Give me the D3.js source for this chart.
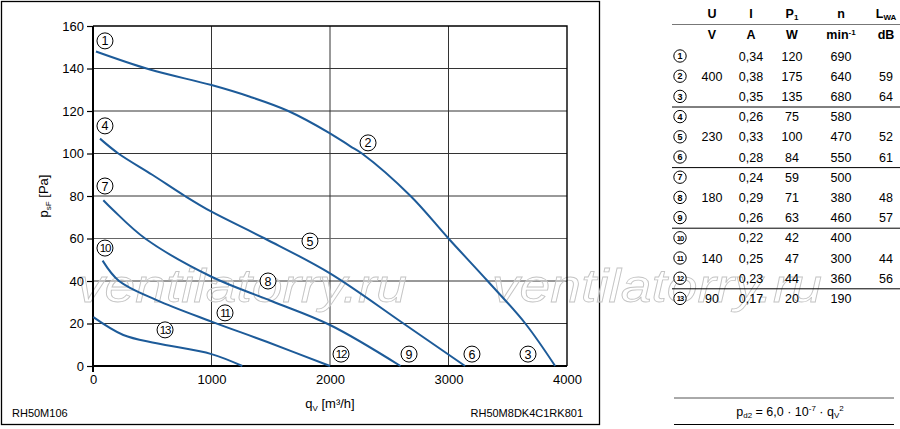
<!DOCTYPE html>
<html>
<head>
<meta charset="utf-8">
<script src="https://cdn.jsdelivr.net/npm/d3@7"></script>
<style>
body { margin: 0; background: #fff; }
svg { font-family: "Liberation Sans", Arial, sans-serif; }
</style>
</head>
<body>
<div id="chart"></div>
<script>
// axis ticks
var qTicks = [0, 1000, 2000, 3000, 4000];
var pTicks = [0, 20, 40, 60, 80, 100, 120, 140, 160];

// characteristic curves [q_V m3/h, p_sF Pa]
var curve400 = [[25,148],[480,139.5],[1000,132.2],[1325,126.7],[1648,120],[2000,109.5],[2169,103.5],[2270,100],[2680,80],[3000,60],[3330,40],[3648,20],[3900,0]];
var curve230 = [[59,107],[214,100],[500,90],[776,80],[1000,72.6],[1450,60],[2000,43.6],[2620,20],[3140,0]];
var curve180 = [[87,78],[170,73.4],[440,60],[1000,42],[1500,30.7],[2000,19.3],[2595,0]];
var curve140 = [[81,49.6],[220,40],[537,31],[1000,20.9],[1466,11.4],[2000,0]];
var curve90  = [[3,23],[256,14.6],[537,10.7],[1000,5.6],[1260,0]];

// operating point labels [number, q, p]
var pointLabels = [[1,101,153],[2,2321,105],[3,3671,5.6],[4,101,113],[5,1831,58.8],[6,3198,5.6],
	[7,101,84.7],[8,1477,40],[9,2667,5.6],[10,101,55.5],[11,1114,25],[12,2093,5.6],[13,608,17]];

// table
var rowNums = [1,2,3,4,5,6,7,8,9,10,11,12,13];
var voltage = ["","400","","","230","","","180","","","140","","90"];
var current = ["0,34","0,38","0,35","0,26","0,33","0,28","0,24","0,29","0,26","0,22","0,25","0,23","0,17"];
var power   = ["120","175","135","75","100","84","59","71","63","42","47","44","20"];
var speed   = ["690","640","680","580","470","550","500","380","460","400","300","360","190"];
var noise   = ["","59","64","","52","61","","48","57","","44","56",""];
var groupEnds = [3, 6, 9, 12];

var w = 900, h = 429;
var blue = "#1d5b99";

var svg = d3.select("#chart").append("svg")
	.attr("width", w)
	.attr("height", h);

var x = d3.scaleLinear().domain([0, 4000]).range([93, 567]);
var y = d3.scaleLinear().domain([0, 160]).range([366, 26]);

// outer frame of the chart
svg.append("rect")
	.attr("x", 1.5).attr("y", 1.5)
	.attr("width", 598).attr("height", 423)
	.attr("fill", "none").attr("stroke", "#000").attr("stroke-width", 1.3);

// grid
svg.append("g").selectAll("line")
	.data(qTicks.slice(1, -1))
	.enter().append("line")
	.attr("x1", function (d) { return x(d); })
	.attr("x2", function (d) { return x(d); })
	.attr("y1", y(160)).attr("y2", y(0))
	.attr("stroke", "#333").attr("stroke-width", 1);
svg.append("g").selectAll("line")
	.data(pTicks.slice(1, -1))
	.enter().append("line")
	.attr("x1", x(0)).attr("x2", x(4000))
	.attr("y1", function (d) { return y(d); })
	.attr("y2", function (d) { return y(d); })
	.attr("stroke", function (d) { return d == 60 ? "#666" : "#333"; })
	.attr("stroke-width", 1);

// watermark
var marks = [77, 492];
svg.append("g").selectAll("text")
	.data(marks)
	.enter().append("text")
	.attr("x", function (d) { return d; })
	.attr("y", 302)
	.attr("font-size", 46)
	.attr("font-style", "italic")
	.attr("textLength", 330)
	.attr("lengthAdjust", "spacingAndGlyphs")
	.attr("fill", "rgba(255,255,255,0.35)")
	.attr("stroke", "#c4c4c4")
	.attr("stroke-width", 0.8)
	.text("ventilatorry.ru");

// plot border top/right
svg.append("path")
	.attr("d", "M" + x(0) + "," + y(160) + "H" + x(4000) + "V" + y(0))
	.attr("fill", "none").attr("stroke", "#000").attr("stroke-width", 1.4);

// axes
var yAxis = d3.axisLeft(y).tickValues(pTicks).tickSize(6).tickPadding(3).tickFormat(d3.format("d"));
var gy = svg.append("g").attr("transform", "translate(" + x(0) + ",0)").call(yAxis);
var xAxis = d3.axisBottom(x).tickValues(qTicks).tickSize(0).tickPadding(9).tickFormat(d3.format("d"));
var gx = svg.append("g").attr("transform", "translate(0," + y(0) + ")").call(xAxis);
[gy, gx].forEach(function (g) {
	g.select(".domain").remove();
	g.selectAll("text").attr("font-size", 13).attr("fill", "#000")
		.attr("font-family", "Liberation Sans, Arial, sans-serif");
	g.selectAll("line").attr("stroke", "#000").attr("stroke-width", 1.2);
});
svg.append("line")
	.attr("x1", x(0)).attr("x2", x(4000))
	.attr("y1", y(0)).attr("y2", y(0))
	.attr("stroke", "#000").attr("stroke-width", 2.2);
svg.append("line")
	.attr("x1", x(0)).attr("x2", x(0))
	.attr("y1", y(160)).attr("y2", y(0) + 6)
	.attr("stroke", "#000").attr("stroke-width", 2);

// curves
var line = d3.line()
	.x(function (d) { return x(d[0]); })
	.y(function (d) { return y(d[1]); })
	.curve(d3.curveCatmullRom.alpha(0.5));
svg.append("g").selectAll("path")
	.data([curve400, curve230, curve180, curve140, curve90])
	.enter().append("path")
	.attr("d", line)
	.attr("fill", "none")
	.attr("stroke", blue)
	.attr("stroke-width", 2);

// point labels
var pl = svg.append("g").selectAll("g")
	.data(pointLabels)
	.enter().append("g")
	.attr("transform", function (d) { return "translate(" + x(d[1]) + "," + y(d[2]) + ")"; });
pl.append("circle")
	.attr("r", 8)
	.attr("fill", "#fff")
	.attr("stroke", "#000")
	.attr("stroke-width", 1);
pl.append("text")
	.attr("text-anchor", "middle")
	.attr("dy", "0.36em")
	.attr("font-size", function (d) { return d[0] > 9 ? 11.5 : 12.5; })
	.attr("letter-spacing", function (d) { return d[0] > 9 ? -1.2 : 0; })
	.text(function (d) { return d[0]; });

// axis titles
var yt = svg.append("text")
	.attr("transform", "translate(48,196) rotate(-90)")
	.attr("text-anchor", "middle")
	.attr("font-size", 13);
yt.append("tspan").text("p");
yt.append("tspan").attr("font-size", 8).attr("dy", 3).text("sF");
yt.append("tspan").attr("dy", -3).text(" [Pa]");

var xt = svg.append("text")
	.attr("x", 330).attr("y", 408)
	.attr("text-anchor", "middle")
	.attr("font-size", 13);
xt.append("tspan").text("q");
xt.append("tspan").attr("font-size", 8).attr("dy", 3).text("V");
xt.append("tspan").attr("dy", -3).text(" [m³/h]");

svg.append("text")
	.attr("x", 12).attr("y", 417)
	.attr("font-size", 11)
	.text("RH50M106");
svg.append("text")
	.attr("x", 583).attr("y", 417)
	.attr("text-anchor", "end")
	.attr("font-size", 11)
	.text("RH50M8DK4C1RK801");

// table
var cols = [712, 751, 792, 841, 886];
var rowY = function (i) { return 56 + i * 20.2; };
var tb = svg.append("g").attr("font-size", 12.5);

var head = tb.append("g").attr("font-weight", "bold").attr("text-anchor", "middle");
head.append("text").attr("x", cols[0]).attr("y", 18).text("U");
head.append("text").attr("x", cols[1]).attr("y", 18).text("I");
var hp = head.append("text").attr("x", cols[2]).attr("y", 18);
hp.append("tspan").text("P");
hp.append("tspan").attr("font-size", 8).attr("dy", 2).text("1");
head.append("text").attr("x", cols[3]).attr("y", 18).text("n");
var hl = head.append("text").attr("x", cols[4]).attr("y", 18);
hl.append("tspan").text("L");
hl.append("tspan").attr("font-size", 8).attr("dy", 2).text("WA");
var units = ["V", "A", "W", null, "dB"];
units.forEach(function (u, i) {
	if (u) head.append("text").attr("x", cols[i]).attr("y", 39).text(u);
});
var hm = head.append("text").attr("x", cols[3]).attr("y", 39);
hm.append("tspan").text("min");
hm.append("tspan").attr("font-size", 8).attr("dy", -4).text("-1");

tb.append("line")
	.attr("x1", 672).attr("x2", 900).attr("y1", 24.5).attr("y2", 24.5)
	.attr("stroke", "#777").attr("stroke-width", 1);
tb.selectAll(".sep")
	.data(groupEnds)
	.enter().append("line")
	.attr("class", "sep")
	.attr("x1", 672).attr("x2", 900)
	.attr("y1", function (d) { return rowY(d) - 9.6; })
	.attr("y2", function (d) { return rowY(d) - 9.6; })
	.attr("stroke", "#000").attr("stroke-width", 1);

var rows = tb.selectAll(".row")
	.data(rowNums)
	.enter().append("g")
	.attr("class", "row")
	.attr("transform", function (d, i) { return "translate(0," + rowY(i) + ")"; });
rows.append("circle")
	.attr("cx", 680).attr("r", 6.2)
	.attr("fill", "#fff").attr("stroke", "#000").attr("stroke-width", 1);
rows.append("text")
	.attr("x", 680).attr("dy", "0.36em")
	.attr("text-anchor", "middle")
	.attr("font-size", function (d) { return d > 9 ? 7.5 : 9; })
	.attr("font-weight", "bold")
	.attr("letter-spacing", function (d) { return d > 9 ? -0.8 : 0; })
	.text(String);
[voltage, current, power, speed, noise].forEach(function (col, c) {
	rows.append("text")
		.attr("x", cols[c]).attr("dy", "0.36em")
		.attr("text-anchor", "middle")
		.text(function (d, i) { return col[i]; });
});

// formula box
svg.append("line").attr("x1", 674).attr("x2", 894).attr("y1", 398).attr("y2", 398)
	.attr("stroke", "#555").attr("stroke-width", 1);
svg.append("line").attr("x1", 674).attr("x2", 894).attr("y1", 424.5).attr("y2", 424.5)
	.attr("stroke", "#000").attr("stroke-width", 1);
var f = svg.append("text")
	.attr("x", 790).attr("y", 416)
	.attr("text-anchor", "middle")
	.attr("font-size", 12.5);
f.append("tspan").text("p");
f.append("tspan").attr("font-size", 8).attr("dy", 2).text("d2");
f.append("tspan").attr("dy", -2).text(" = 6,0 · 10");
f.append("tspan").attr("font-size", 8).attr("dy", -5).text("-7");
f.append("tspan").attr("dy", 5).text(" · q");
f.append("tspan").attr("font-size", 8).attr("dy", 2).text("V");
f.append("tspan").attr("font-size", 8).attr("dy", -7).text("2");
</script>
</body>
</html>
